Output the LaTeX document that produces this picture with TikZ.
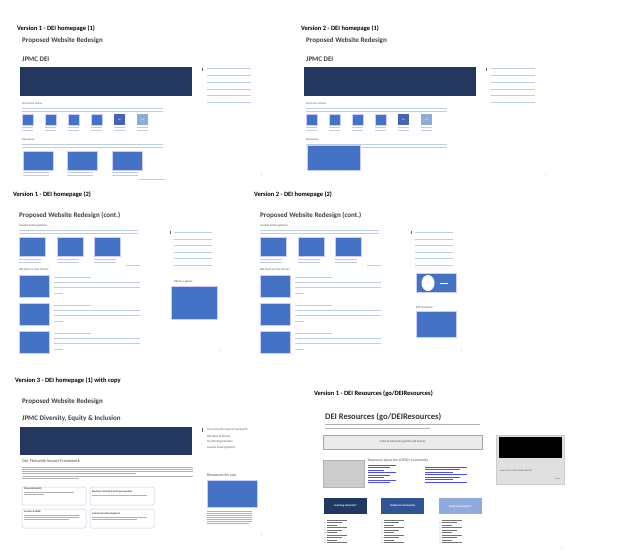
\documentclass[tikz,border=0pt]{standalone}
\usepackage{fontspec}
\setmainfont{Carlito}
\definecolor{bblue}{RGB}{68,114,196}
\definecolor{navyc}{RGB}{36,55,94}
\definecolor{deib}{RGB}{68,100,180}
\definecolor{lightb}{RGB}{143,170,220}
\definecolor{darkb}{RGB}{31,56,100}
\definecolor{midb}{RGB}{47,85,151}
\definecolor{lnc}{RGB}{190,205,230}
\begin{document}
\begin{tikzpicture}[x=1pt,y=-1pt,
 lab/.style={anchor=west,inner sep=0,font=\fontsize{6.5}{7}\selectfont\bfseries},
 ttl/.style={anchor=west,inner sep=0,text=black!75,font=\fontsize{7}{8}\selectfont\bfseries},
 tiny/.style={anchor=west,inner sep=0,text=black!65,font=\fontsize{3}{3.5}\selectfont},
 ln/.style={draw=lnc,line width=0.6pt},
 bb/.style={fill=bblue,draw=white!80!blue},
 navy/.style={fill=navyc},
 rbox/.style={draw=lnc,rounded corners=1.5pt,line width=0.5pt}]
\useasboundingbox (0,0) rectangle (619,557);
\fill[white] (0,0) rectangle (619,557);
% ---------- panels 1 and 2 ----------
\foreach \dx/\v in {0/1,284/2}{
\begin{scope}[xshift=\dx]
\node[lab] (l\v) at (17,29) {Version \v\ - DEI homepage (1)};
\node[ttl] (t\v) at (22,41) {Proposed Website Redesign};
\node[ttl] (j\v) at (22,59) {JPMC DEI};
\fill[navy] (20,67) rectangle (192,96);
\draw[black!60,line width=0.5pt] (202,68) -- (202,71);
\foreach \y in {68,75,82,89,95,102} \draw[ln] (207,\y) -- (251,\y);
\node[tiny] at (22,104) {Our Focus Areas};
\draw[ln] (22,108) -- (163,108); \draw[ln] (22,111) -- (163,111);
\foreach \x in {22,45,68,91}{\fill[bb] (\x,114) rectangle +(11,11);
 \draw[ln,line width=0.4pt] (\x,127) -- +(11,0); \draw[ln,line width=0.4pt] (\x,130) -- +(11,0);}
\fill[deib] (114,114) rectangle +(11,11);
\node[text=white,font=\fontsize{2}{2}\selectfont] at (119.5,119.5) {DEI};
\fill[lightb] (137,114) rectangle +(11,11);
\node[text=white,font=\fontsize{2}{2}\selectfont] at (142.5,119.5) {CSR};
\foreach \x in {114,137}{\draw[ln,line width=0.4pt] (\x,127) -- +(11,0); \draw[ln,line width=0.4pt] (\x,130) -- +(11,0);}
\node[tiny] at (22,140) {Resources};
\draw[ln] (22,144) -- (163,144); \draw[ln] (22,147) -- (163,147);
\node[font=\fontsize{2}{2}\selectfont,text=black!60] at (262,175) {1};
\end{scope}}
\foreach \x in {23,67,112}{\fill[bb] (\x,151) rectangle +(30,19);
 \draw[ln,line width=0.4pt] (\x,172) -- +(26,0); \draw[ln,line width=0.4pt] (\x,175) -- +(26,0);}
\draw[ln,line width=0.4pt] (139,179) -- (165,179);
\fill[bb] (307,145) rectangle (360,170);
% ---------- panels 3 and 4 ----------
\foreach \dx/\v in {0/1,241/2}{
\begin{scope}[xshift=\dx]
\node[lab] (m\v) at (13,195) {Version \v\ - DEI homepage (2)};
\node[ttl] (c\v) at (19,215) {Proposed Website Redesign (cont.)};
\node[tiny] at (19,226) {Awards \& Recognitions};
\draw[ln] (19,230) -- (138,230); \draw[ln] (19,233) -- (138,233);
\foreach \x in {19,57,94}{\fill[bb] (\x,237) rectangle +(26,19);
 \draw[ln,line width=0.4pt] (\x,259) -- +(22,0); \draw[ln,line width=0.4pt] (\x,262) -- +(22,0);}
\draw[ln,line width=0.4pt] (126,265) -- (140,265);
\node[tiny] at (19,269) {DEI News \& Your Stories};
\foreach \y in {275,303,331}{\fill[bb] (19,\y) rectangle +(30,22);
 \draw[ln,line width=0.4pt] (54,\y+2) -- +(37,0);
 \draw[ln,line width=0.4pt] (54,\y+7) -- +(86,0);
 \draw[ln,line width=0.4pt] (54,\y+12) -- +(86,0);
 \draw[ln,line width=0.4pt] (54,\y+18) -- +(9,0);}
\draw[black!60,line width=0.5pt] (170,231) -- (170,234);
\foreach \y in {232,239,245,252,258,265} \draw[ln] (174,\y) -- (212,\y);
\node[font=\fontsize{2}{2}\selectfont,text=black!60] at (221,351) {1};
\end{scope}}
\node[tiny] at (174,282) {DEI At-a-glance};
\fill[bb] (171,286) rectangle (217,319);
\fill[bb] (416,273) rectangle (456,292);
\fill[white] (428,283) ellipse (6.5 and 8);
\draw[white,line width=0.3pt] (440,283) -- (448,283);
\node[tiny] at (416,307) {Did You Know};
\fill[bb] (416,311) rectangle (456,337);
% ---------- panel 5 ----------
\node[lab] (v3) at (15,381) {Version 3 - DEI homepage (1) with copy};
\node[ttl] (t3) at (22,402) {Proposed Website Redesign};
\node[ttl] (j3) at (22,419) {JPMC Diversity, Equity \& Inclusion};
\fill[navy] (20,427) rectangle (192,455);
\node[anchor=west,inner sep=0,text=black!70,font=\fontsize{4.3}{5}\selectfont] at (22,461) {Our Firmwide Impact Framework};
\foreach \y/\l in {467/180,469/180,471/180,473/120,476/180,478/60}\draw[black!30,line width=0.4pt] (22,\y) -- +({\l*0.95},0);
\draw[rbox] (22,487) rectangle (86,505); \draw[rbox] (90,487) rectangle (154,505);
\draw[rbox] (22,509) rectangle (86,528); \draw[rbox] (90,509) rectangle (154,528);
\foreach \x/\y/\t in {24/489/Financial Health,92/492/Business Growth \& Entrepreneurship,24/512/Careers \& Skills,92/514/Community Development}
 \node[anchor=west,inner sep=0,text=black!75,font=\fontsize{2.6}{3}\selectfont\bfseries] at (\x,\y) {\t};
\foreach \x/\y/\l in {24/492/50,24/494/20,92/495/55,24/515/55,24/517/55,24/519/45,92/517/55,92/519/45}\draw[black!30,line width=0.3pt] (\x,\y) -- +(\l,0);
\draw[black!60,line width=0.5pt] (202,428) -- (202,432);
\foreach \y/\t in {430/Our Firmwide Impact Framework,436/DEI News \& Stories,442/Our DEI Organization,448/Awards \& Recognitions}
 \node[tiny] at (207,\y) {\t};
\node[anchor=west,inner sep=0,text=black!70,font=\fontsize{4}{5}\selectfont] at (207,475) {Resources for you};
\fill[bb] (207,480) rectangle (257,507);
\foreach \y/\l in {511/45,513/45,515/45,517/45,519/45,521/45,523/42}\draw[black!30,line width=0.3pt] (207,\y) -- +(\l,0);
\node[font=\fontsize{2}{2}\selectfont,text=black!60] at (262,535) {1};
% ---------- panel 6 ----------
\node[lab] (v4) at (314,394) {Version 1 - DEI Resources (go/DEIResources)};
\node[anchor=west,inner sep=0,text=black!80,font=\fontsize{8.5}{9}\selectfont\bfseries] (r6) at (325,417) {DEI Resources (go/DEIResources)};
\draw[black!30,line width=0.4pt] (325,424) -- (480,424); \draw[black!30,line width=0.4pt] (325,428) -- (430,428);
\node[draw=black!35,fill=black!8,minimum width=159pt,minimum height=14pt,inner sep=0,anchor=north west,font=\fontsize{3}{3.5}\selectfont,text=black!70] (cm) at (323,435) {Cultural Moments go/link and banner};
\fill[black!20,draw=black!30] (323,460) rectangle (364,487);
\node[anchor=west,inner sep=0,text=black!70,font=\fontsize{3.6}{4}\selectfont] at (368,461) {Resources about the LGBTQ+ Community};
\foreach \i in {0,...,7}{\draw[blue!70,line width=0.3pt] (368,{465+\i*2.5}) -- +({28-mod(\i,3)*6},0);}
\foreach \i in {0,...,6}{\draw[blue!70,line width=0.3pt] (425,{467+\i*2.5}) -- +({42-mod(\i,3)*7},0);}
\fill[black!12,draw=black!20] (496,435) rectangle (564,484);
\fill[black] (499,437) rectangle (562,458);
\node[anchor=west,inner sep=0,font=\fontsize{2.5}{3}\selectfont,text=black!70] at (500,471) {Learn more about Pride Month.};
\node[anchor=east,inner sep=0,font=\fontsize{2}{2}\selectfont,text=black!60] at (560,479) {Share};
\foreach \x/\c/\t/\nm in {324/darkb/Learning materials*/b1,381/midb/Culture \& community/b2,439/lightb/External resources*/b3}{
 \node[fill=\c,minimum width=43pt,minimum height=16pt,anchor=north west,inner sep=0,text=white,font=\fontsize{2.8}{3}\selectfont\bfseries] (\nm) at (\x,498) {\t};
 \foreach \i in {0,...,9}{\fill[black!70] ({\x+1},{520+\i*2.5}) circle (0.35);
  \draw[black!55,line width=0.3pt] ({\x+3},{520+\i*2.5}) -- +({20-mod(\i,3)*5},0);}}
\node[font=\fontsize{2}{2}\selectfont,text=black!60] at (562,548) {1};
\end{tikzpicture}
\end{document}
